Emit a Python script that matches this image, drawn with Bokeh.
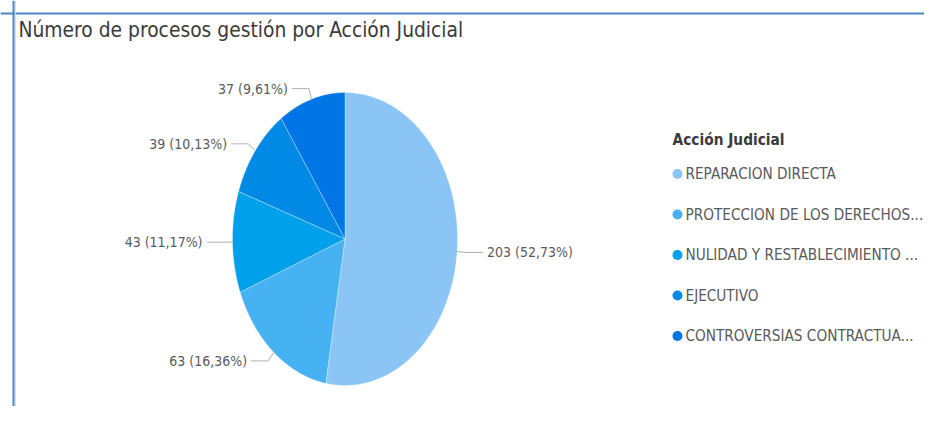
import numpy as np
from bokeh.plotting import figure
from bokeh.models import Range1d, Span, Label, ColumnDataSource
from bokeh.core.properties import value
from bokeh.embed import file_html
from bokeh.resources import INLINE

# ---- data ----
title = "Número de procesos gestión por Acción Judicial"
legend_title = "Acción Judicial"
categories = ["REPARACION DIRECTA", "PROTECCION DE LOS DERECHOS...",
              "NULIDAD Y RESTABLECIMIENTO ...", "EJECUTIVO",
              "CONTROVERSIAS CONTRACTUA..."]
counts = [203, 63, 43, 39, 37]
colors = ["#8AC5F5", "#47B2F1", "#00A0EA", "#008AE6", "#0076E6"]

FONT = "DejaVu Sans Condensed"

W, H = 924, 406
p = figure(width=W, height=H, output_backend="svg", toolbar_location=None,
           x_range=Range1d(0, W), y_range=Range1d(H, 0),
           min_border=0, outline_line_color=None, background_fill_color="white")
p.axis.visible = False
p.grid.visible = False

# frame border (top & left)
p.add_layout(Span(location=13, dimension="height", line_color="#4F86C6", line_width=2))
p.add_layout(Span(location=13, dimension="width", line_color="#4F86C6", line_width=2))
p.add_layout(Span(location=15, dimension="height", line_color="#DADADA", line_width=1))

p.add_layout(Label(x=18, y=29, text=title, text_font=FONT, text_font_size="20.8px",
                   text_color="#3A3A3A", text_baseline="middle", text_align="left"))

# ---- pie (ellipse) ----
cx, cy, rx, ry = 344.5, 238.5, 112.5, 146.5
vals = np.array(counts, dtype=float)
total = vals.sum()
frac = vals / total
cum = np.concatenate([[0], np.cumsum(frac)])

xs, ys = [], []
for i in range(len(vals)):
    th = np.pi / 2 - 2 * np.pi * np.linspace(cum[i], cum[i + 1], 120)
    xs.append([cx] + list(cx + rx * np.cos(th)))
    ys.append([cy] + list(cy - ry * np.sin(th)))
p.patches(xs=xs, ys=ys, fill_color=colors, line_color="#FFFFFF", line_width=0.5,
          line_alpha=0.6)

# ---- data labels with leader lines ----
lx, ly, tx, ty, ta, tt = [], [], [], [], [], []
for i in range(len(vals)):
    mid = np.pi / 2 - 2 * np.pi * (cum[i] + cum[i + 1]) / 2
    c, s = np.cos(mid), np.sin(mid)
    px, py = cx + rx * c, cy - ry * s
    ex, ey = cx + (rx + 9) * c, cy - (ry + 11) * s
    side = 1 if c >= 0 else -1
    hx = ex + side * 17
    lx.append([px, ex, hx])
    ly.append([py, ey, ey])
    tx.append(hx + side * 4)
    ty.append(ey)
    ta.append("left" if side > 0 else "right")
    pct = f"{frac[i] * 100:.2f}".replace(".", ",")
    tt.append(f"{counts[i]} ({pct}%)")
p.multi_line(xs=lx, ys=ly, line_color="#B0B0B0", line_width=1)
p.text(x=tx, y=ty, text=tt, text_align=ta, text_baseline="middle",
       text_font=value(FONT), text_font_size="14px", text_color="#5A5A5A")

# ---- legend ----
p.add_layout(Label(x=672, y=139, text=legend_title, text_font=FONT, text_font_size="15.3px",
                   text_font_style="bold", text_color="#3A3A3A", text_baseline="middle"))
ly0, dy = 173.5, 40.5
leg_y = [ly0 + i * dy for i in range(len(categories))]
p.scatter(x=[677] * len(categories), y=leg_y, size=10, fill_color=colors, line_color=None)
p.text(x=[685] * len(categories), y=leg_y, text=categories, text_baseline="middle",
       text_font=value(FONT), text_font_size="15.2px", text_color="#5A5A5A")

open("out.html", "w").write(file_html(p, INLINE))
